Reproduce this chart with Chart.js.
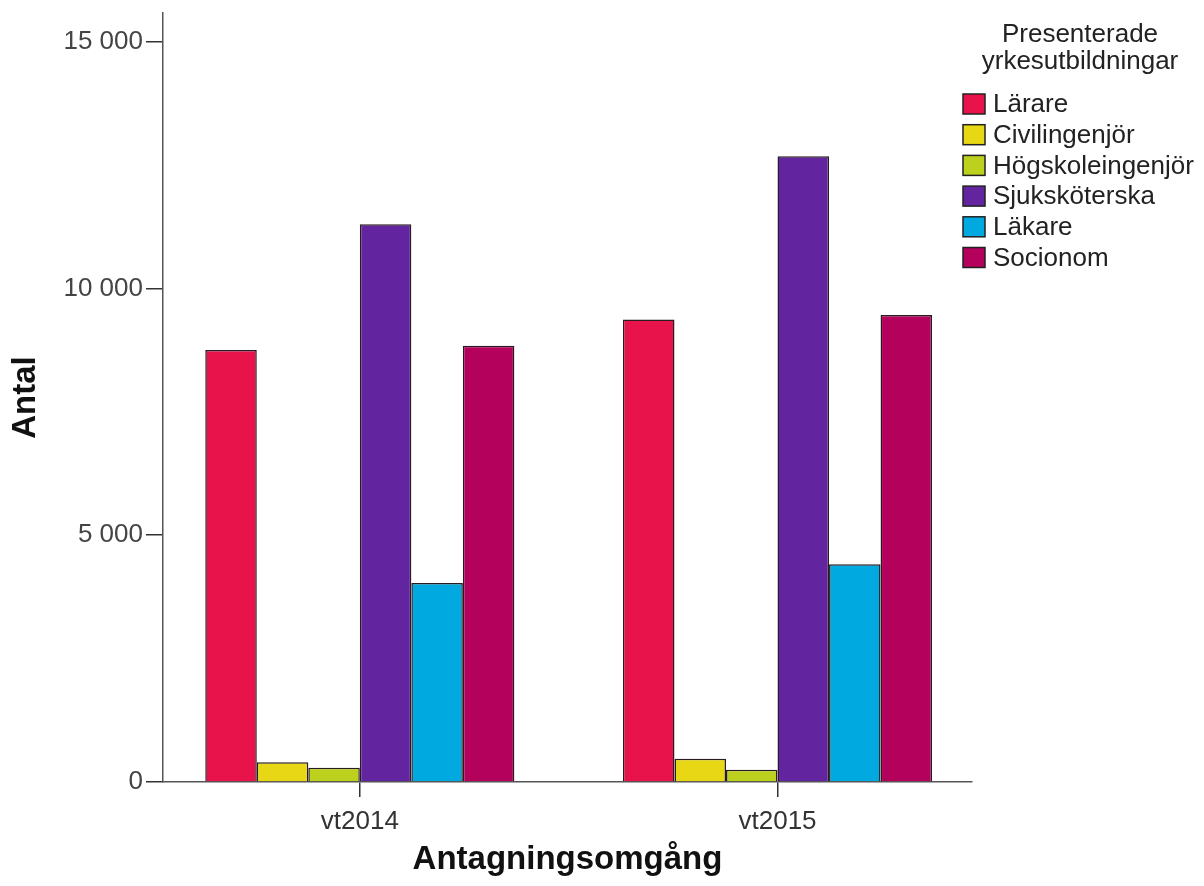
<!DOCTYPE html>
<html>
<head>
<meta charset="utf-8">
<script src="https://cdn.jsdelivr.net/npm/chart.js@4.4.1/dist/chart.umd.min.js"></script>
<style>
  html, body { margin: 0; padding: 0; background: #fff; }
  #wrap { width: 1204px; height: 886px; position: relative; }
</style>
</head>
<body>
<div id="wrap"><canvas id="chart" width="1204" height="886"></canvas></div>
<script>
const rounds = ['vt2014', 'vt2015']
const programmes = ['Lärare', 'Civilingenjör', 'Högskoleingenjör', 'Sjuksköterska', 'Läkare', 'Socionom']
const colors = ['#e8134a', '#e8d714', '#bcd11d', '#6324a0', '#00a9df', '#b4015c']

const larare = [8750, 9370]
const civilingenjor = [400, 470]
const hogskoleingenjor = [290, 250]
const sjukskoterska = [11300, 12680]
const lakare = [4030, 4410]
const socionom = [8840, 9460]

const yTicks = [0, 5000, 10000, 15000]
const legendTitle = ['Presenterade', 'yrkesutbildningar']

const series = [larare, civilingenjor, hogskoleingenjor, sjukskoterska, lakare, socionom]
const font = '"Liberation Sans", Arial, sans-serif'

const fmt = v => String(v).replace(/\B(?=(\d{3})+(?!\d))/g, ' ')

// legend is drawn by hand, it sits partly over the plot area in the original
const sideLegend = {
    id: 'sideLegend',
    afterDraw(chart) {
        const ctx = chart.ctx
        ctx.save()
        ctx.fillStyle = '#222'
        ctx.font = '26px ' + font
        ctx.textAlign = 'center'
        ctx.textBaseline = 'middle'
        ctx.fillText(legendTitle[0], 1080, 35)
        ctx.fillText(legendTitle[1], 1080, 62)
        ctx.textAlign = 'left'
        programmes.forEach((p, i) => {
            const y = 104 + i * 30.7
            ctx.fillStyle = colors[i]
            ctx.fillRect(963, y - 10, 22, 20)
            ctx.strokeStyle = '#222'
            ctx.lineWidth = 1.5
            ctx.strokeRect(963, y - 10, 22, 20)
            ctx.fillStyle = '#222'
            ctx.fillText(p, 993, y + 1)
        })
        ctx.restore()
    }
}

new Chart(document.getElementById('chart'), {
    type: 'bar',
    data: {
        labels: rounds,
        datasets: programmes.map((p, i) => ({
            label: p,
            data: series[i],
            backgroundColor: colors[i],
            borderColor: '#2a1a22',
            borderWidth: 1.5,
            borderSkipped: 'bottom'
        }))
    },
    options: {
        responsive: false,
        animation: false,
        devicePixelRatio: 1,
        layout: { padding: { top: 13, right: 232, left: 0, bottom: 0 } },
        datasets: { bar: { barPercentage: 1, categoryPercentage: 0.74 } },
        plugins: { legend: { display: false }, tooltip: { enabled: false } },
        scales: {
            x: {
                afterFit: s => { s.height = 104 },
                afterBuildTicks: s => { s._startValue = -0.4712; s._valueRange = 1.9368 },
                grid: { offset: false, drawOnChartArea: false, color: '#333', lineWidth: 1.5, tickLength: 15 },
                border: { color: '#555', width: 1.5 },
                ticks: { color: '#333', font: { family: font, size: 26 }, padding: 9 },
                title: {
                    display: true, text: 'Antagningsomgång', color: '#111',
                    font: { family: font, size: 33, weight: 'bold' }, padding: { top: 0, bottom: 6 }
                }
            },
            y: {
                min: 0,
                max: 15580,
                afterFit: s => { s.width = 163; s.paddingTop = 0 },
                afterBuildTicks: s => { s.ticks = yTicks.map(v => ({ value: v })) },
                grid: { drawOnChartArea: false, color: '#333', lineWidth: 1.5, tickLength: 17 },
                border: { color: '#555', width: 1.5 },
                ticks: { color: '#444', font: { family: font, size: 26 }, padding: 3, callback: v => fmt(v) },
                title: {
                    display: true, text: 'Antal', color: '#111',
                    font: { family: font, size: 33, weight: 'bold' }, padding: { top: 6, bottom: 0 }
                }
            }
        }
    },
    plugins: [sideLegend]
})
</script>
</body>
</html>
